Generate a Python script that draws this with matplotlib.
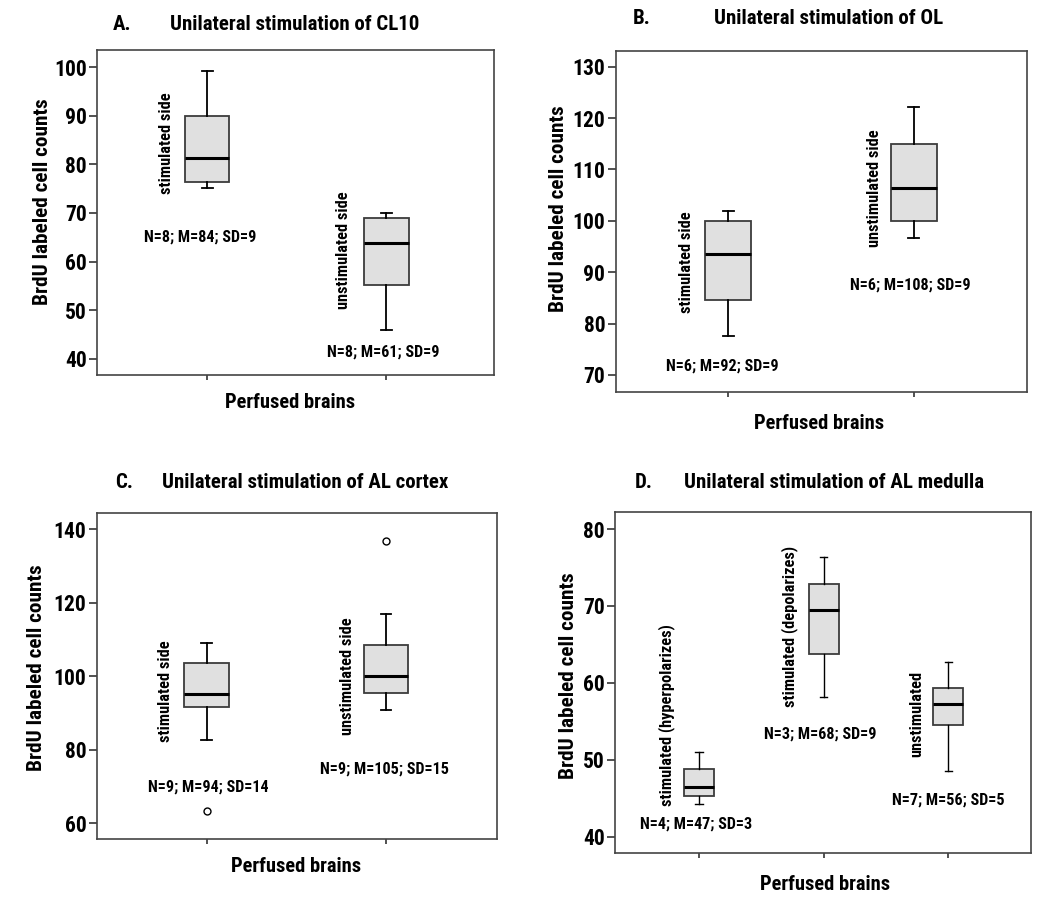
import matplotlib
matplotlib.use("Agg")
import matplotlib.pyplot as plt

plt.rcParams['font.family'] = ['Roboto Condensed', 'DejaVu Sans']

# ---------------- data ----------------
# Panel A: Unilateral stimulation of CL10
a_groups = ["stimulated side", "unstimulated side"]
a_whislo = [75.2, 46.0]
a_q1 = [76.4, 55.3]
a_med = [81.3, 63.8]
a_q3 = [90.0, 69.0]
a_whishi = [99.1, 70.1]
a_fliers = [[], []]
a_summary = ["N=8; M=84; SD=9", "N=8; M=61; SD=9"]
a_yticks = [40, 50, 60, 70, 80, 90, 100]

# Panel B: Unilateral stimulation of OL
b_groups = ["stimulated side", "unstimulated side"]
b_whislo = [77.5, 96.7]
b_q1 = [84.6, 100.0]
b_med = [93.6, 106.3]
b_q3 = [100.0, 115.0]
b_whishi = [102.0, 122.2]
b_fliers = [[], []]
b_summary = ["N=6; M=92; SD=9", "N=6; M=108; SD=9"]
b_yticks = [70, 80, 90, 100, 110, 120, 130]

# Panel C: Unilateral stimulation of AL cortex
c_groups = ["stimulated side", "unstimulated side"]
c_whislo = [82.7, 90.8]
c_q1 = [91.6, 95.4]
c_med = [95.2, 100.1]
c_q3 = [103.7, 108.5]
c_whishi = [109.0, 117.0]
c_fliers = [[63.2], [136.9]]
c_summary = ["N=9; M=94; SD=14", "N=9; M=105; SD=15"]
c_yticks = [60, 80, 100, 120, 140]

# Panel D: Unilateral stimulation of AL medulla
d_groups = ["stimulated (hyperpolarizes)", "stimulated (depolarizes)", "unstimulated"]
d_whislo = [44.3, 58.2, 48.5]
d_q1 = [45.3, 63.8, 54.5]
d_med = [46.5, 69.5, 57.25]
d_q3 = [48.8, 72.85, 59.3]
d_whishi = [51.0, 76.4, 62.75]
d_fliers = [[], [], []]
d_summary = ["N=4; M=47; SD=3", "N=3; M=68; SD=9", "N=7; M=56; SD=5"]
d_yticks = [40, 50, 60, 70, 80]

titles = ["Unilateral stimulation of CL10", "Unilateral stimulation of OL",
          "Unilateral stimulation of AL cortex", "Unilateral stimulation of AL medulla"]
letters = ["A.", "B.", "C.", "D."]
ylabel = "BrdU labeled cell counts"
xlabel = "Perfused brains"

# ---------------- layout ----------------
W, H = 1050, 900
fig = plt.figure(figsize=(W / 100, H / 100), dpi=100)

def px_axes(l, t, r, b):
    return fig.add_axes([l / W, 1 - b / H, (r - l) / W, (b - t) / H])

panels = [
    dict(rect=(97, 50, 494, 375), xlim=(0.385, 2.60), ylim=(36.7, 103.5), width=0.246,
         data=(a_whislo, a_q1, a_med, a_q3, a_whishi, a_fliers), groups=a_groups,
         summary=a_summary, yticks=a_yticks, lw=1.3,
         grp_pos=[(0.77, 84.4), (1.76, 62.4)], sum_pos=[(0.96, 65.1), (1.98, 41.4)],
         title_y=24, letter_x=113, title_x=170, ylab=(43, 202), xlab=(290, 402)),
    dict(rect=(615.7, 50.7, 1027, 391.7), xlim=(0.394, 2.61), ylim=(66.75, 133.1), width=0.25,
         data=(b_whislo, b_q1, b_med, b_q3, b_whishi, b_fliers), groups=b_groups,
         summary=b_summary, yticks=b_yticks, lw=1.3,
         grp_pos=[(0.776, 92.0), (1.79, 106.4)], sum_pos=[(0.966, 71.8), (1.98, 87.5)],
         title_y=19, letter_x=633, title_x=714, ylab=(559, 209), xlab=(819, 424)),
    dict(rect=(96.7, 512.7, 496.7, 839), xlim=(0.387, 2.617), ylim=(55.7, 144.5), width=0.249,
         data=(c_whislo, c_q1, c_med, c_q3, c_whishi, c_fliers), groups=c_groups,
         summary=c_summary, yticks=c_yticks, lw=1.3,
         grp_pos=[(0.77, 95.8), (1.784, 100.1)], sum_pos=[(1.01, 69.8), (1.99, 74.7)],
         title_y=482.5, letter_x=115, title_x=162, ylab=(37, 668), xlab=(296, 866)),
    dict(rect=(615, 511.7, 1031, 853.3), xlim=(0.326, 3.663), ylim=(37.84, 82.25), width=0.24,
         data=(d_whislo, d_q1, d_med, d_q3, d_whishi, d_fliers), groups=d_groups,
         summary=d_summary, yticks=d_yticks, lw=1.0,
         grp_pos=[(0.74, 55.85), (1.727, 67.3), (2.746, 56.0)],
         sum_pos=[(0.975, 41.7), (1.97, 53.4), (3.0, 44.8)],
         title_y=482.5, letter_x=635, title_x=684, ylab=(569, 676), xlab=(825, 884)),
]

for i, p in enumerate(panels):
    ax = px_axes(*p["rect"])
    whislo, q1, med, q3, whishi, fliers = p["data"]
    stats = []
    for k in range(len(med)):
        stats.append(dict(whislo=whislo[k], q1=q1[k], med=med[k], q3=q3[k],
                          whishi=whishi[k], fliers=fliers[k]))
    positions = list(range(1, len(med) + 1))
    lw = p["lw"]
    ax.bxp(stats, positions=positions, widths=p["width"], patch_artist=True,
           showfliers=True, capwidths=0.06,
           boxprops=dict(facecolor="#e0e0e0", edgecolor="#3c3c3c", linewidth=1.3),
           medianprops=dict(color="black", linewidth=2.2),
           whiskerprops=dict(color="black", linewidth=lw),
           capprops=dict(color="black", linewidth=lw),
           flierprops=dict(marker="o", markerfacecolor="white", markeredgecolor="black",
                           markersize=5, markeredgewidth=1.0))
    ax.set_xlim(*p["xlim"])
    ax.set_ylim(*p["ylim"])
    ax.set_yticks(p["yticks"])
    ax.set_yticklabels([str(t) for t in p["yticks"]], fontsize=15.5, fontweight="bold")
    ax.set_xticks(positions)
    ax.set_xticklabels([])
    ax.tick_params(axis="y", direction="out", length=5.5, width=1.2, pad=2, color="#333333")
    ax.tick_params(axis="x", direction="out", length=3.5, width=1.2, color="#333333")
    for s in ax.spines.values():
        s.set_color("#444444")
        s.set_linewidth(1.2)

    for (gx, gy), g in zip(p["grp_pos"], p["groups"]):
        ax.text(gx, gy, g, rotation=90, ha="center", va="center", fontsize=11.8,
                fontweight="bold")
    for (sx, sy), s in zip(p["sum_pos"], p["summary"]):
        ax.text(sx, sy, s, ha="center", va="center", fontsize=11.6, fontweight="bold")

    fig.text(p["letter_x"] / W, 1 - p["title_y"] / H, letters[i], ha="left", va="center",
             fontsize=15, fontweight="bold")
    fig.text(p["title_x"] / W, 1 - p["title_y"] / H, titles[i], ha="left", va="center",
             fontsize=15, fontweight="bold")
    fig.text(p["ylab"][0] / W, 1 - p["ylab"][1] / H, ylabel, rotation=90, ha="center",
             va="center", fontsize=15.3, fontweight="bold")
    fig.text(p["xlab"][0] / W, 1 - p["xlab"][1] / H, xlabel, ha="center", va="center",
             fontsize=14.8, fontweight="bold")

fig.savefig("out.png", dpi=100)
